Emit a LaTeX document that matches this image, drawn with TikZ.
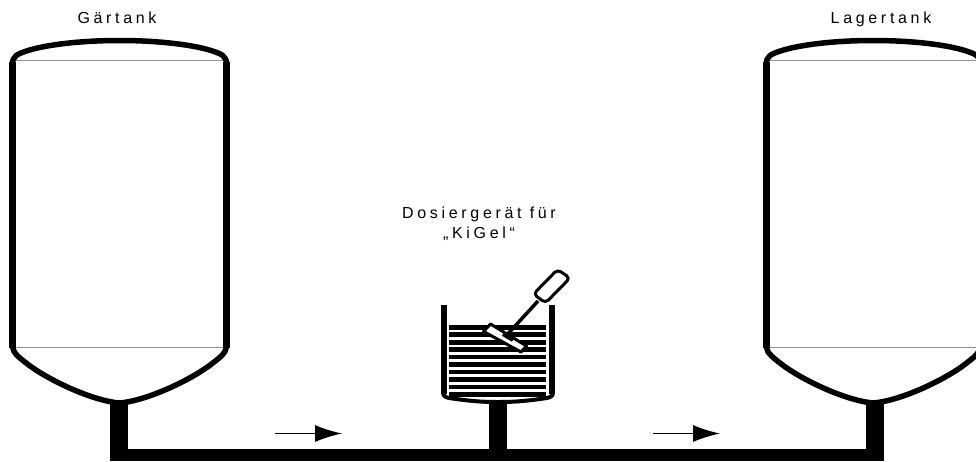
\documentclass[tikz,border=0pt]{standalone}
\usepackage{fontspec}
\setmainfont{Liberation Sans}[LetterSpace=23]
\usetikzlibrary{arrows.meta, positioning}

\begin{document}
\begin{tikzpicture}[
  x=1pt, y=-1pt,
  every node/.style={font=\fontsize{16}{20}\selectfont, inner sep=0pt, align=center},
  wall/.style={line width=6.7pt},
  dome/.style={line width=5.5pt, line join=round},
  level/.style={line width=0.8pt, draw=gray!85},
  flow/.style={-{Latex[length=27pt, width=17pt]}, line width=1.3pt},
  band/.style={line width=4.7pt},
  stirrer/.style={line width=3pt, line join=round}
]
\useasboundingbox (0,0) rectangle (976,461);
\clip (0,0) rectangle (976,461);

% labels
\node[anchor=base] (gaer) at (117,23) {Gärtank};
\node[anchor=base] (lager) at (881,23) {Lagertank};
\node (dosier) at (479,224) {Dosiergerät für\\„KiGel“};

% tanks
\foreach \cx in {119.5, 873.3} {
  \draw[level] (\cx-104,60) -- (\cx+104,60);
  \draw[level] (\cx-104,347) -- (\cx+104,347);
  \draw[wall] (\cx-106.7,62) -- (\cx-106.7,348);
  \draw[wall] (\cx+106.7,62) -- (\cx+106.7,348);
  \draw[dome] (\cx-107,64) .. controls (\cx-107,56) and (\cx-102,54) .. (\cx-93,51)
    .. controls (\cx-75,45) and (\cx-40,40.5) .. (\cx,40.5)
    .. controls (\cx+40,40.5) and (\cx+75,45) .. (\cx+93,51)
    .. controls (\cx+102,54) and (\cx+107,56) .. (\cx+107,64);
  \draw[dome] (\cx-107,346)
    .. controls (\cx-107,353) and (\cx-100,358) .. (\cx-88,367)
    .. controls (\cx-65,383) and (\cx-25,401) .. (\cx,403)
    .. controls (\cx+25,401) and (\cx+65,383) .. (\cx+88,367)
    .. controls (\cx+100,358) and (\cx+107,353) .. (\cx+107,346);
}

% pipe
\fill (110,403) rectangle (128,461);
\fill (866,403) rectangle (884,461);
\fill (110,449) rectangle (884,461);
\fill (489,401) rectangle (507,449);

% arrows
\coordinate (flowa) at (275,433.5);
\coordinate (flowb) at (342,433.5);
\coordinate (flowc) at (653,433.5);
\coordinate (flowd) at (720,433.5);
\draw[flow] (flowa) -- (flowb);
\draw[flow] (flowc) -- (flowd);

% dosing vessel
\draw[line width=6pt] (444,305) -- (444,394);
\draw[line width=6pt] (551.5,305) -- (551.5,394);
\draw[line width=4pt, line join=round] (443,392)
  .. controls (443,396) and (445,397) .. (449,398)
  .. controls (470,401) and (480,402) .. (498,402)
  .. controls (516,402) and (526,401) .. (547,398)
  .. controls (551,397) and (553,396) .. (553,392);
\foreach \y in {0,...,9} {
  \draw[band] (449,327.3+\y*7.45) -- (546,327.3+\y*7.45);
}

% stirrer
\draw[stirrer, fill=white] (483.5,331.5) -- (490.5,324) -- (526.5,346) -- (521,352) -- cycle;
\draw[line width=3.5pt] (505,337) -- (538,301);
\draw[line width=4pt] (503,334) -- (513,340);
\draw[stirrer, fill=white, rounded corners=4pt] (533.5,294) -- (557.5,269.5) -- (570,278) -- (545.5,303) -- cycle;

\end{tikzpicture}
\end{document}
